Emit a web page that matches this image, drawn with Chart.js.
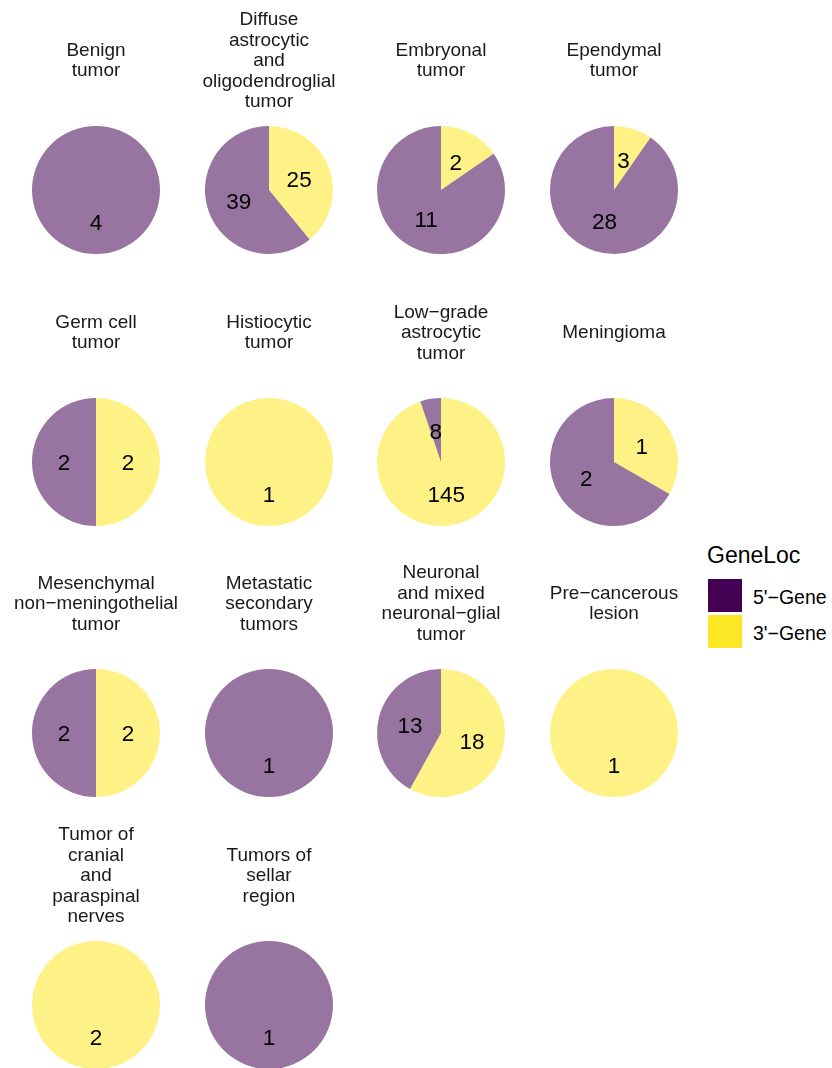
<!DOCTYPE html>
<html>
<head>
<meta charset="utf-8">
<script src="https://cdn.jsdelivr.net/npm/chart.js@4.4.1/dist/chart.umd.min.js"></script>
<style>
  body { margin:0; background:#fff; width:832px; height:1068px; overflow:hidden; position:relative; font-family:"Liberation Sans", Arial, sans-serif; }
  canvas { position:absolute; }
  .lg { position:absolute; color:#000; white-space:nowrap; }
  .key { position:absolute; width:34px; height:33px; }
</style>
</head>
<body>
<div id="wrap"></div>
<div class="lg" style="left:707px;top:544px;font-size:23px;line-height:23px;">GeneLoc</div>
<div class="key" style="left:708px;top:579px;background:#440154;"></div>
<div class="key" style="left:708px;top:615px;background:#FDE725;"></div>
<div class="lg" style="left:753px;top:588px;font-size:19.5px;line-height:19.5px;">5'−Gene</div>
<div class="lg" style="left:753px;top:624px;font-size:19.5px;line-height:19.5px;">3'−Gene</div>
<script>
// tumour classes (facet titles, one entry per line)
var tumorTypes = [
  ["Benign", "tumor"],
  ["Diffuse", "astrocytic", "and", "oligodendroglial", "tumor"],
  ["Embryonal", "tumor"],
  ["Ependymal", "tumor"],
  ["Germ cell", "tumor"],
  ["Histiocytic", "tumor"],
  ["Low−grade", "astrocytic", "tumor"],
  ["Meningioma"],
  ["Mesenchymal", "non−meningothelial", "tumor"],
  ["Metastatic", "secondary", "tumors"],
  ["Neuronal", "and mixed", "neuronal−glial", "tumor"],
  ["Pre−cancerous", "lesion"],
  ["Tumor of", "cranial", "and", "paraspinal", "nerves"],
  ["Tumors of", "sellar", "region"]
];
var geneLoc = ["3'−Gene", "5'−Gene"];
var threePrime = [0, 25, 2, 3, 2, 1, 145, 1, 2, 0, 18, 1, 2, 0];
var fivePrime  = [4, 39, 11, 28, 2, 0, 8, 2, 2, 1, 13, 0, 0, 1];

var colCenters = [96, 268.5, 441, 614];
var rowCenters = [189.5, 461.5, 733, 1005];
var lineH = 20.5;

// put the count in the middle of each slice
var sliceLabels = {
  id: "sliceLabels",
  afterDatasetsDraw: function(chart) {
    var ctx = chart.ctx;
    var meta = chart.getDatasetMeta(0);
    var vals = chart.data.datasets[0].data;
    ctx.save();
    ctx.font = "22.5px 'Liberation Sans', Arial, sans-serif";
    ctx.fillStyle = "#000";
    ctx.textAlign = "center";
    ctx.textBaseline = "middle";
    meta.data.forEach(function(arc, i) {
      if (!vals[i]) return;
      var p = arc.getCenterPoint();
      ctx.fillText(String(vals[i]), p.x, p.y + 2);
    });
    ctx.restore();
  }
};

var wrap = document.getElementById("wrap");
for (var i = 0; i < tumorTypes.length; i++) {
  var cv = document.createElement("canvas");
  cv.width = 164;
  cv.height = 258;
  cv.style.left = (colCenters[i % 4] - 82) + "px";
  cv.style.top = (rowCenters[Math.floor(i / 4)] - 181) + "px";
  wrap.appendChild(cv);

  var n = tumorTypes[i].length;
  var padTop = 52 - n * lineH / 2;
  var padBottom = 104 - padTop - n * lineH;

  new Chart(cv, {
    type: "pie",
    data: {
      labels: geneLoc,
      datasets: [{
        data: [threePrime[i], fivePrime[i]],
        backgroundColor: ["rgba(253,231,37,0.55)", "rgba(68,1,84,0.55)"],
        borderWidth: 0
      }]
    },
    options: {
      responsive: false,
      animation: false,
      devicePixelRatio: 1,
      radius: 64,
      events: [],
      layout: { padding: 0 },
      plugins: {
        legend: { display: false },
        tooltip: { enabled: false },
        title: {
          display: true,
          text: tumorTypes[i],
          color: "#1a1a1a",
          font: { family: "'Liberation Sans', Arial, sans-serif", size: 19, weight: "normal", lineHeight: lineH / 19 },
          padding: { top: padTop, bottom: padBottom }
        }
      }
    },
    plugins: [sliceLabels]
  });
}
</script>
</body>
</html>
